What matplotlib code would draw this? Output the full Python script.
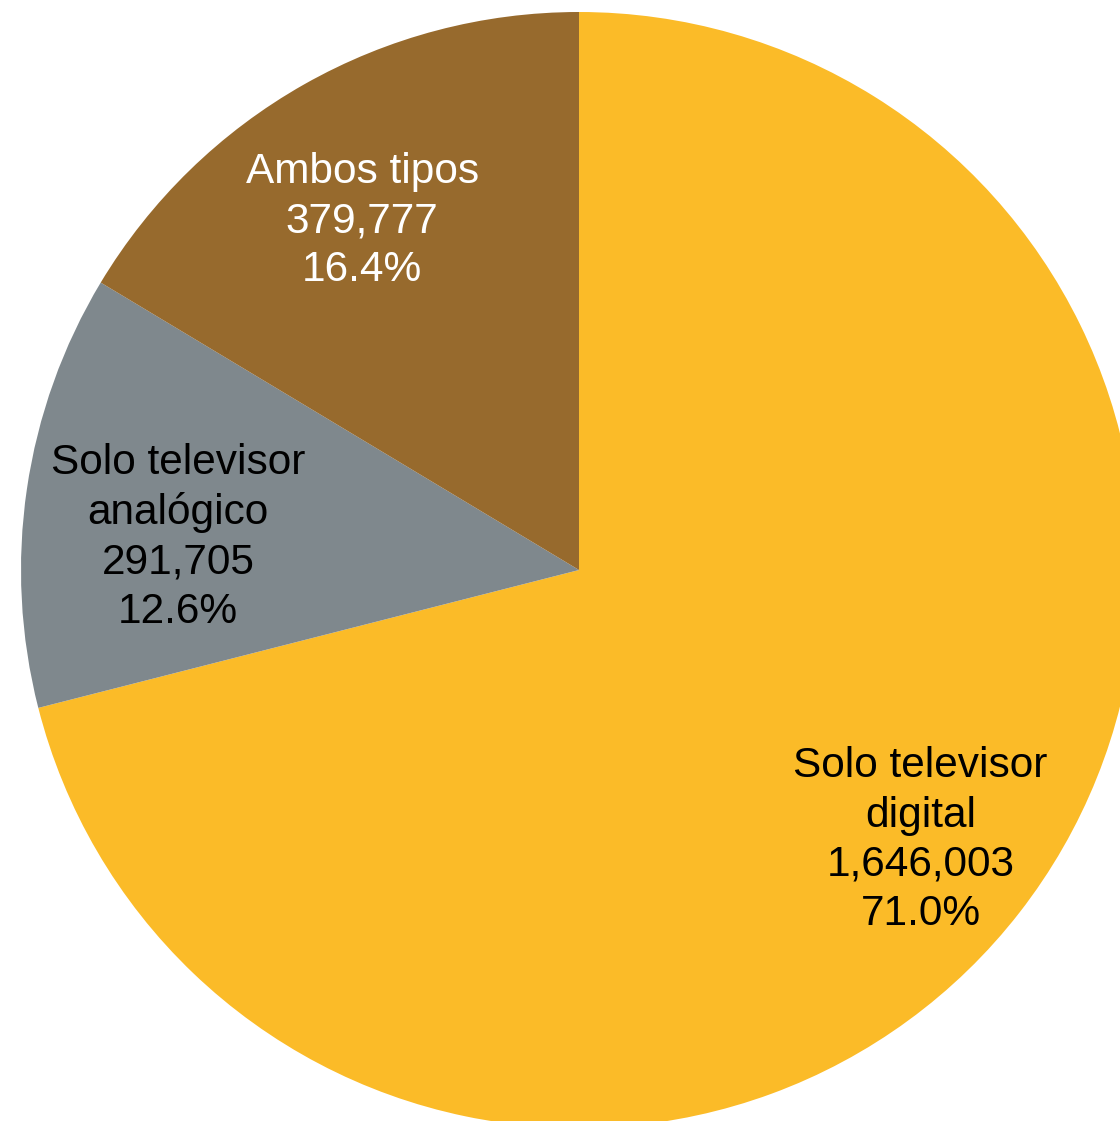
import numpy as np
import matplotlib
matplotlib.use("Agg")
import matplotlib.pyplot as plt

plt.rcParams['font.family'] = ['Liberation Sans', 'DejaVu Sans']

categories = ["Solo televisor\ndigital", "Solo televisor\nanalógico", "Ambos tipos"]
values = [1646003, 291705, 379777]
colors = ["#FBBB28", "#7F888D", "#976A2D"]
text_colors = ["black", "black", "white"]
label_dist = [0.775, 0.722, 0.744]
label_shift = [0.0, 3.0, 2.0]  # degrees

fig = plt.figure(figsize=(11.2, 11.21), dpi=100)
ax = fig.add_axes([0, 0, 1, 1])

cx, cy, r = 579, 1121 - 570, 558
wedges, _ = ax.pie(values, colors=colors, startangle=90, counterclock=False,
                   center=(cx, cy), radius=r, frame=True,
                   wedgeprops=dict(linewidth=0))
ax.set_xlim(0, 1120)
ax.set_ylim(0, 1121)
ax.set_aspect('equal')
ax.axis('off')

total = sum(values)
for w, cat, v, tc, d, s in zip(wedges, categories, values, text_colors, label_dist, label_shift):
    ang = np.deg2rad((w.theta1 + w.theta2) / 2 + s)
    x = cx + d * r * np.cos(ang)
    y = cy + d * r * np.sin(ang) - 5
    ax.text(x, y, f"{cat}\n{v:,}\n{v / total * 100:.1f}%", ha='center', va='center',
            fontsize=30.5, color=tc, linespacing=1.3)

fig.savefig("out.png", dpi=100)
